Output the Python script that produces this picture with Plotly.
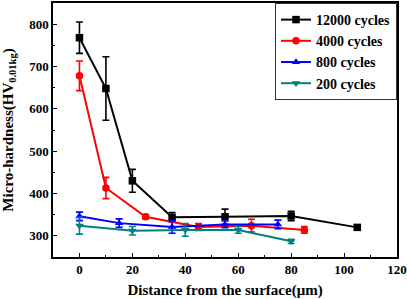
import plotly.graph_objects as go

# Data
x_12000 = [0, 10, 20, 35, 55, 80, 105]
y_12000 = [768, 648, 430, 344, 345, 347, 320]
e_12000 = [37, 75, 27, 11, 18, 11, 6]

x_4000 = [0, 10, 25, 45, 65, 85]
y_4000 = [678, 413, 345, 321, 324, 314]
e_4000 = [35, 25, 5, 8, 15, 8]

x_800 = [0, 15, 35, 55, 75]
y_800 = [346, 330, 321, 327, 327]
e_800 = [10, 10, 15, 8, 10]

x_200 = [0, 20, 40, 60, 80]
y_200 = [324, 312, 314, 314, 287]
e_200 = [20, 10, 15, 8, 5]

names = ["12000 cycles", "4000 cycles", "800 cycles", "200 cycles"]
colors = ["#000000", "#FF0000", "#0000FF", "#008080"]
symbols = ["square", "circle", "triangle-up", "triangle-down"]

series = [(x_12000, y_12000, e_12000), (x_4000, y_4000, e_4000),
          (x_800, y_800, e_800), (x_200, y_200, e_200)]

FONT = "Liberation Serif"

fig = go.Figure()
for (xs, ys, es), n, c, s in zip(series, names, colors, symbols):
    fig.add_trace(go.Scatter(
        x=xs, y=ys, name="<b>" + n + "</b>", mode="lines+markers",
        line=dict(color=c, width=2),
        marker=dict(symbol=s, size=7.5, color=c),
        error_y=dict(type="data", array=es, visible=True, color=c,
                     thickness=1.6, width=3.5),
    ))

axis_common = dict(
    showline=True, linecolor="black", linewidth=1.5, mirror=True,
    ticks="inside", ticklen=4, tickwidth=1.2, tickcolor="black",
    showgrid=False, zeroline=False, automargin=False,
    tickfont=dict(family=FONT, size=13, color="black", weight="bold"),
)

fig.update_layout(
    width=407, height=299,
    margin=dict(l=53, r=10, t=3, b=42),
    paper_bgcolor="white", plot_bgcolor="white",
    font=dict(family=FONT, color="black"),
    xaxis=dict(
        range=[-10, 120], tickvals=[0, 20, 40, 60, 80, 100, 120],
        minor=dict(ticks="inside", ticklen=2.5, tickwidth=1, tickcolor="black", dtick=10, tick0=0),
        title=dict(text="<b>Distance from the surface(μm)</b>",
                   font=dict(family=FONT, size=15, color="black")),
        **axis_common),
    yaxis=dict(
        range=[250, 850], tickvals=[300, 400, 500, 600, 700, 800],
        minor=dict(ticks="inside", ticklen=2.5, tickwidth=1, tickcolor="black", dtick=50, tick0=0),
        title=dict(text="<b>Micro-hardness(HV<sub>0.01kg</sub>)</b>",
                   font=dict(family=FONT, size=15, color="black")),
        **axis_common),
    legend=dict(
        x=1, y=1, xanchor="right", yanchor="top",
        bgcolor="white", bordercolor="#333333", borderwidth=1,
        font=dict(family=FONT, size=14, color="black"),
        itemwidth=30, tracegroupgap=0,
    ),
    showlegend=True,
)

fig.write_html("out.html", config={"displayModeBar": False},
               post_script="document.body.style.margin='0';")
